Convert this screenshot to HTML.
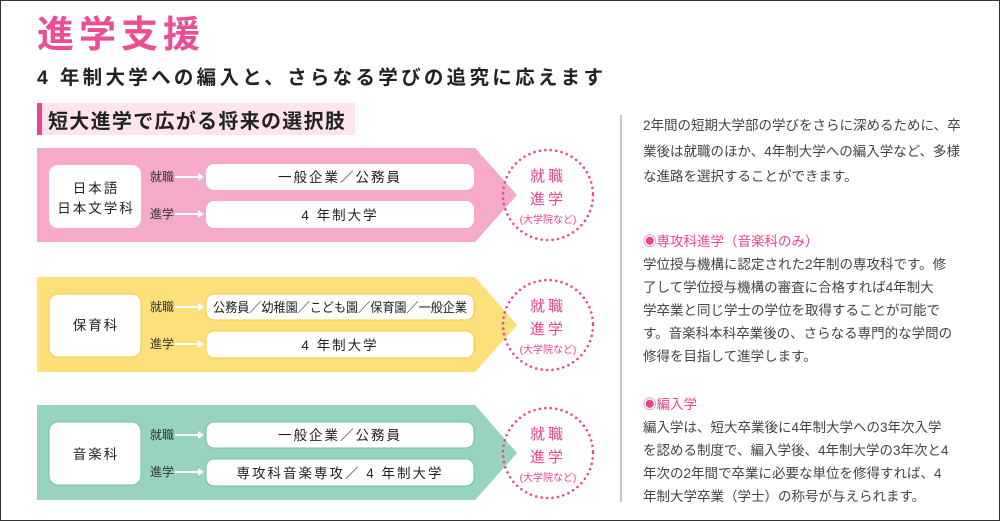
<!DOCTYPE html>
<html><head><meta charset="utf-8"><style>
body{margin:0;width:1000px;height:521px;overflow:hidden;background:#fff;font-family:"Liberation Sans","Noto Sans CJK JP",sans-serif;color:#333;position:relative}
.frame{position:absolute;left:0;top:0;width:998px;height:519px;border:1px solid #333;box-sizing:content-box}
.abs{position:absolute;white-space:nowrap}
.rt{position:absolute;left:643px;font-size:13.5px;color:#444;white-space:nowrap}
.pk{color:#e8468f}
</style></head><body>
<div class="frame"></div>
<div class="abs" style="left:37px;top:4px;font-size:37px;color:#ea4f93;letter-spacing:5px;font-weight:bold">進学支援</div>
<div class="abs" style="left:37px;top:61px;font-size:19.5px;color:#222;letter-spacing:3.3px;font-weight:bold">4 年制大学への編入と、さらなる学びの追究に応えます</div>
<div class="abs" style="left:37px;top:103px;width:318px;height:32px;background:#fde4ee"></div>
<div class="abs" style="left:37px;top:103px;width:5px;height:32px;background:#e8468f"></div>
<div class="abs" style="left:48px;top:105px;font-size:20px;color:#222;font-weight:bold;letter-spacing:1.3px">短大進学で広がる将来の選択肢</div>
<svg class="abs" style="left:0;top:0" width="1000" height="521">
<g font-family="Liberation Sans,Noto Sans CJK JP,sans-serif">
<polygon points="37,148 475,148 517,195 475,242 37,242" fill="#f5aaca"/>
<polygon points="37,277 475,277 517,325 475,372 37,372" fill="#fde07a"/>
<polygon points="37,405 475,405 517,453 475,500 37,500" fill="#98d3be"/>
<g fill="#fff">
<rect x="49" y="165" width="92" height="63" rx="9"/>
<rect x="206" y="164" width="268" height="26" rx="8"/><rect x="206" y="201" width="268" height="27" rx="8"/>
<rect x="49" y="294" width="92" height="63" rx="9" stroke="#f6c84a"/>
<rect x="206" y="294" width="268" height="26" rx="8" stroke="#f6c84a"/><rect x="206" y="331" width="268" height="27" rx="8" stroke="#f6c84a"/>
<rect x="49" y="422" width="92" height="63" rx="9" stroke="#6fc0a6"/>
<rect x="206" y="422" width="268" height="26" rx="8" stroke="#6fc0a6"/><rect x="206" y="459" width="268" height="27" rx="8" stroke="#6fc0a6"/>
</g>
<g stroke="#fff" stroke-width="2" fill="#fff">
<line x1="175" y1="177" x2="198" y2="177"/><polygon points="198,173 204,177 198,181" stroke="none"/>
<line x1="175" y1="214" x2="198" y2="214"/><polygon points="198,210 204,214 198,218" stroke="none"/>
<line x1="175" y1="307" x2="198" y2="307"/><polygon points="198,303 204,307 198,311" stroke="none"/>
<line x1="175" y1="344" x2="198" y2="344"/><polygon points="198,340 204,344 198,348" stroke="none"/>
<line x1="175" y1="435" x2="198" y2="435"/><polygon points="198,431 204,435 198,439" stroke="none"/>
<line x1="175" y1="472" x2="198" y2="472"/><polygon points="198,468 204,472 198,476" stroke="none"/>
</g>
<g fill="#333" font-size="12">
<text x="150" y="181">就職</text><text x="150" y="218">進学</text>
<text x="150" y="311">就職</text><text x="150" y="348">進学</text>
<text x="150" y="439">就職</text><text x="150" y="476">進学</text>
</g>
<g fill="#222" font-size="13.5" text-anchor="middle" letter-spacing="2">
<text x="96" y="193">日本語</text><text x="96" y="213">日本文学科</text>
<text x="96" y="330">保育科</text><text x="96" y="459">音楽科</text>
<text x="340" y="182">一般企業／公務員</text><text x="340" y="220">4 年制大学</text>
<text x="340" y="312" letter-spacing="0" font-size="13" textLength="254" lengthAdjust="spacingAndGlyphs">公務員／幼稚園／こども園／保育園／一般企業</text><text x="340" y="350">4 年制大学</text>
<text x="340" y="440">一般企業／公務員</text><text x="340" y="478">専攻科音楽専攻／ 4 年制大学</text>
</g>
<g fill="none" stroke="#e8468f" stroke-width="2.6" stroke-linecap="round" stroke-dasharray="0 5.5">
<circle cx="548" cy="195" r="45"/><circle cx="548" cy="325" r="45"/><circle cx="548" cy="453" r="45"/>
</g>
<g fill="#e8468f" text-anchor="middle">
<text x="548" y="181" font-size="15" letter-spacing="3">就職</text><text x="548" y="204" font-size="15" letter-spacing="3">進学</text><text x="548" y="223" font-size="10">(大学院など)</text>
<text x="548" y="311" font-size="15" letter-spacing="3">就職</text><text x="548" y="334" font-size="15" letter-spacing="3">進学</text><text x="548" y="353" font-size="10">(大学院など)</text>
<text x="548" y="439" font-size="15" letter-spacing="3">就職</text><text x="548" y="462" font-size="15" letter-spacing="3">進学</text><text x="548" y="481" font-size="10">(大学院など)</text>
</g>
</g>
<line x1="621" y1="115" x2="621" y2="502" stroke="#bbb0a8" stroke-width="1.5"/>
</svg>
<div class="rt" style="top:114px">2年間の短期大学部の学びをさらに深めるために、卒</div>
<div class="rt" style="top:140px">業後は就職のほか、4年制大学への編入学など、多様</div>
<div class="rt" style="top:165px">な進路を選択することができます。</div>
<div class="rt pk" style="top:230px">◉専攻科進学（音楽科のみ）</div>
<div class="rt" style="top:253px">学位授与機構に認定された2年制の専攻科です。修</div>
<div class="rt" style="top:276px">了して学位授与機構の審査に合格すれば4年制大</div>
<div class="rt" style="top:299px">学卒業と同じ学士の学位を取得することが可能で</div>
<div class="rt" style="top:322px">す。音楽科本科卒業後の、さらなる専門的な学問の</div>
<div class="rt" style="top:345px">修得を目指して進学します。</div>
<div class="rt pk" style="top:393px">◉編入学</div>
<div class="rt" style="top:416px">編入学は、短大卒業後に4年制大学への3年次入学</div>
<div class="rt" style="top:439px">を認める制度で、編入学後、4年制大学の3年次と4</div>
<div class="rt" style="top:462px">年次の2年間で卒業に必要な単位を修得すれば、4</div>
<div class="rt" style="top:485px">年制大学卒業（学士）の称号が与えられます。</div>
</body></html>
